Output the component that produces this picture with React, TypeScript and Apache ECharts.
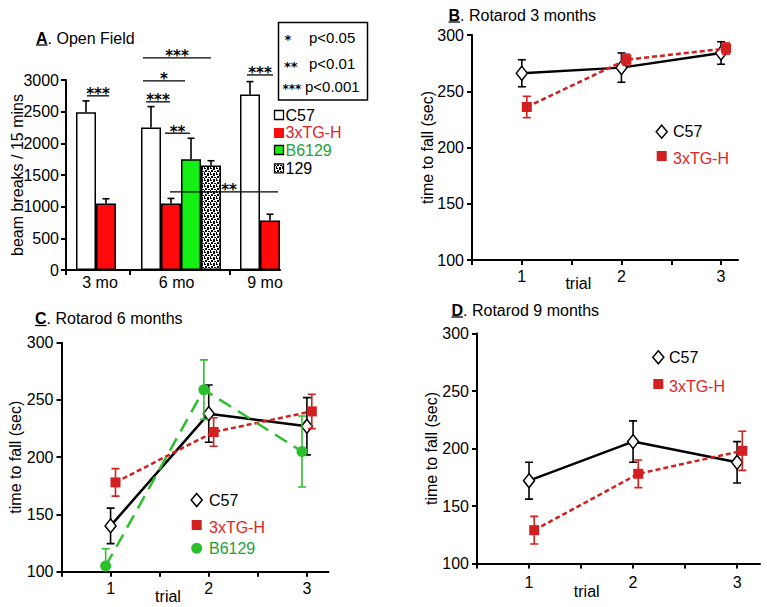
import React, { useEffect, useRef } from 'react';
import * as echarts from 'echarts';

const FONT = '"Liberation Sans", Arial, Helvetica, sans-serif';
const STAR_FONT = '"DejaVu Sans", "Liberation Sans", sans-serif';

// ---------- Panel A: Open Field ----------
const ageGroups = ['3 mo', '6 mo', '9 mo'];
const strainsA = ['C57', '3xTG-H', 'B6129', '129'];
const beamC57 = [2490, 2250, 2770];
const beamC57Err = [180, 330, 205];
const beam3xTG = [1050, 1050, 780];
const beam3xTGErr = [75, 80, 100];
const beamB6129 = [null, 1750, null];
const beamB6129Err = [null, 330, null];
const beam129 = [null, 1650, null];
const beam129Err = [null, 75, null];
const yTicksA = [0, 500, 1000, 1500, 2000, 2500, 3000];

// significance bars (data coordinates)
const sigText = ['***', '***', '*', '***', '**', '***', '**'];
const sigFrom = [1.05, 3.85, 3.85, 4.0, 4.95, 9.05, 5.2];
const sigTo = [2.15, 7.25, 5.95, 5.2, 6.2, 10.35, 10.6];
const sigLevel = [2750, 3350, 2985, 2655, 2160, 3080, 1235];
const sigLabelX = [null, null, null, null, null, null, 8.15];

const pLegendStars = ['*', '**', '***'];
const pLegendText = ['p<0.05', 'p<0.01', 'p<0.001'];

// ---------- Rotarod panels ----------
const trials = [1, 2, 3];
const yTicksRot = [100, 150, 200, 250, 300];
// B: 3 months
const rot3C57 = [266, 271, 284];
const rot3C57Sem = [12, 13, 10];
const rot3Tg = [236, 278, 288];
const rot3TgSem = [9.5, 5, 5];
// C: 6 months
const rot6C57 = [140, 238, 227];
const rot6C57Sem = [15.5, 25, 25];
const rot6Tg = [178, 222, 240];
const rot6TgSem = [12, 12.5, 15];
const rot6B6129 = [105, 259, 205];
const rot6B6129Sem = [15, 26, 31];
// D: 9 months
const rot9C57 = [172, 206, 188];
const rot9C57Sem = [16, 18, 18];
const rot9Tg = [129, 178, 198];
const rot9TgSem = [12, 12, 17];

// ---------- styles / layout ----------
const RED_BAR = '#ff0a0a';
const GREEN_BAR = '#14f014';
const RED = '#d21f1f';
const RED_TEXT = '#e0231f';
const GREEN = '#2cbf2c';
const GREEN_TEXT = '#24a13a';

const speckleSvg =
  '<svg xmlns="http://www.w3.org/2000/svg" width="6" height="6"><rect width="6" height="6" fill="#fff"/>' +
  '<path d="M0 0h2v1H0zM3 0h2v2H3zM1 2h2v2H1zM4 3h2v1H4zM0 4h1v2H0zM3 5h2v1H3z" fill="#000"/></svg>';
const speckleUrl = 'data:image/svg+xml;charset=utf-8,' + encodeURIComponent(speckleSvg);
const speckle: any = { image: speckleUrl, repeat: 'repeat', imageWidth: 6, imageHeight: 6 };

const groupStart = [1, 4.25, 9.2];
const ageLabelPos = [1.7, 5.53, 9.95];

function axisBase(extra: any) {
  return {
    axisLine: { show: true, onZero: false, lineStyle: { color: '#000', width: 2 } },
    splitLine: { show: false },
    ...extra,
  };
}
const tickStyle = { show: true, inside: false, length: 5, lineStyle: { color: '#000', width: 2 } };
const labelStyle = { color: '#000', fontSize: 16, fontFamily: FONT };

function errRender(color: string) {
  return (params: any, api: any) => {
    const x = api.value(0);
    const m = api.value(1);
    const s = api.value(2);
    const top = api.coord([x, m + s]);
    const bot = api.coord([x, m - s]);
    const st = { stroke: color, lineWidth: 1.6 };
    return {
      type: 'group',
      children: [
        { type: 'line', shape: { x1: top[0], y1: top[1], x2: bot[0], y2: bot[1] }, style: st },
        { type: 'line', shape: { x1: top[0] - 4, y1: top[1], x2: top[0] + 4, y2: top[1] }, style: st },
        { type: 'line', shape: { x1: bot[0] - 4, y1: bot[1], x2: bot[0] + 4, y2: bot[1] }, style: st },
      ],
    };
  };
}

function rotSeries(idx: number, name: string, means: number[], sems: number[], offset: number, kind: string, z: number) {
  const pts = trials.map((t, i) => [t + offset, means[i], sems[i]]);
  let lineColor = '#000';
  let symbol = 'diamond';
  let symbolSize: any = [11, 14];
  let itemStyle: any = { color: '#fff', borderColor: '#000', borderWidth: 1.5 };
  let lineType: any = 'solid';
  if (kind === 'tg') {
    lineColor = RED;
    symbol = 'rect';
    symbolSize = 10;
    itemStyle = { color: RED, borderWidth: 0 };
    lineType = [5, 3];
  } else if (kind === 'b6') {
    lineColor = GREEN;
    symbol = 'circle';
    symbolSize = 11;
    itemStyle = { color: GREEN, borderWidth: 0 };
    lineType = [14, 8];
  }
  return [
    {
      type: 'custom',
      name: name + ' sem',
      xAxisIndex: idx,
      yAxisIndex: idx,
      clip: true,
      z,
      silent: true,
      renderItem: errRender(lineColor),
      data: pts,
    },
    {
      type: 'line',
      name,
      xAxisIndex: idx,
      yAxisIndex: idx,
      z: z + 1,
      clip: false,
      symbol,
      symbolSize,
      showSymbol: true,
      itemStyle,
      lineStyle: { color: lineColor, width: 2.5, type: lineType },
      data: pts.map((p) => [p[0], p[1]]),
    },
  ];
}

function trialXAxis(gridIndex: number, max: number, margin: number) {
  return axisBase({
    type: 'value',
    gridIndex,
    min: 0.5,
    max,
    axisTick: { ...tickStyle, customValues: [0.5, 1, 1.5, 2, 2.5, 3] },
    axisLabel: { ...labelStyle, margin, customValues: trials, formatter: (v: number) => String(v) },
  });
}
function rotYAxis(gridIndex: number, nameGap: number) {
  return axisBase({
    type: 'value',
    gridIndex,
    min: yTicksRot[0],
    max: yTicksRot[yTicksRot.length - 1],
    interval: 50,
    name: 'time to fall (sec)',
    nameLocation: 'middle',
    nameRotate: 90,
    nameGap,
    nameMoveOverlap: false,
    nameTextStyle: { color: '#000', fontSize: 16, fontFamily: FONT },
    axisTick: tickStyle,
    axisLabel: { ...labelStyle, margin: 8, formatter: (v: number) => String(v) },
  });
}

function title(letter: string, rest: string, x: number, y: number) {
  return [
    {
      type: 'text',
      x,
      y,
      style: {
        text: '{b|' + letter + '}' + rest,
        fontSize: 16,
        fontFamily: FONT,
        fill: '#000',
        verticalAlign: 'middle',
        rich: { b: { fontWeight: 'bold', fontSize: 16, fontFamily: FONT, fill: '#000' } },
      },
    },
    {
      type: 'line',
      shape: { x1: x, y1: y + 7, x2: x + 11.5, y2: y + 7 },
      style: { stroke: '#000', lineWidth: 1.3 },
    },
  ];
}

function txt(text: string, x: number, y: number, color = '#000', size = 16, align = 'left', weight = 'normal', family = FONT) {
  return {
    type: 'text',
    x,
    y,
    style: { text, fill: color, fontSize: size, fontWeight: weight, fontFamily: family, align, verticalAlign: 'middle' },
  };
}
function diamond(cx: number, cy: number) {
  return {
    type: 'polygon',
    shape: { points: [[cx, cy - 6.5], [cx + 5.5, cy], [cx, cy + 6.5], [cx - 5.5, cy]] },
    style: { fill: '#fff', stroke: '#000', lineWidth: 1.5 },
  };
}
function square(cx: number, cy: number, color: string) {
  return { type: 'rect', shape: { x: cx - 5, y: cy - 5, width: 10, height: 10 }, style: { fill: color } };
}
function dot(cx: number, cy: number, color: string) {
  return { type: 'circle', shape: { cx, cy, r: 5.5 }, style: { fill: color } };
}

function buildOption() {
  // bars of panel A
  const strainVals = [beamC57, beam3xTG, beamB6129, beam129];
  const strainErrs = [beamC57Err, beam3xTGErr, beamB6129Err, beam129Err];
  const strainFill: any[] = ['#fff', RED_BAR, GREEN_BAR, speckle];
  const barData: any[] = [];
  const errData: any[] = [];
  ageGroups.forEach((_, g) => {
    let k = 0;
    strainsA.forEach((_, s) => {
      const v = strainVals[s][g];
      if (v == null) return;
      const x = groupStart[g] + k;
      k += 1;
      barData.push({
        value: [x, v],
        itemStyle: { color: strainFill[s], borderColor: '#000', borderWidth: 1.5 },
      });
      errData.push([x, v, strainErrs[s][g]]);
    });
  });

  const graphic: any[] = [
    ...title('A', '. Open Field', 36, 38),
    ...title('B', '. Rotarod 3 months', 448.5, 15),
    ...title('C', '. Rotarod 6 months', 35, 318.5),
    ...title('D', '. Rotarod 9 months', 451.5, 310),
    // p-value box
    {
      type: 'rect',
      shape: { x: 278.5, y: 22.5, width: 89, height: 77.5 },
      style: { fill: '#fff', stroke: '#000', lineWidth: 1.5 },
    },
    txt(pLegendStars[0], 284.5, 39.5, '#000', 13, 'left', 'bold', STAR_FONT),
    txt(pLegendStars[1], 284, 66, '#000', 13, 'left', 'bold', STAR_FONT),
    txt(pLegendStars[2], 282.5, 89, '#000', 12, 'left', 'bold', STAR_FONT),
    txt(pLegendText[0], 309, 37, '#000', 15),
    txt(pLegendText[1], 309, 63.5, '#000', 15),
    txt(pLegendText[2], 305, 86.5, '#000', 15),
    // legend A
    { type: 'rect', shape: { x: 274.5, y: 110.5, width: 9, height: 9 }, style: { fill: '#fff', stroke: '#000', lineWidth: 1.3 } },
    { type: 'rect', shape: { x: 274, y: 128, width: 10, height: 10 }, style: { fill: RED_BAR } },
    { type: 'rect', shape: { x: 274.5, y: 145.5, width: 9, height: 9 }, style: { fill: GREEN_BAR, stroke: '#000', lineWidth: 1.3 } },
    { type: 'rect', shape: { x: 274.5, y: 163.8, width: 9, height: 9 }, style: { fill: speckle, stroke: '#000', lineWidth: 1.3 } },
    txt(strainsA[0], 285.5, 115),
    txt(strainsA[1], 285.5, 132.5, RED_TEXT),
    txt(strainsA[2], 285.5, 150, GREEN_TEXT),
    txt(strainsA[3], 285.5, 168.3),
    // legend B
    diamond(661.7, 131.7),
    txt('C57', 673, 131.7),
    square(661.7, 156, RED),
    txt('3xTG-H', 673, 158, RED_TEXT),
    // legend C
    diamond(196.7, 500),
    txt('C57', 209, 500),
    square(196.7, 525, RED),
    txt('3xTG-H', 209, 527, RED_TEXT),
    dot(196.7, 548.3, GREEN),
    txt('B6129', 209, 548.3, GREEN_TEXT),
    // legend D
    diamond(658.3, 357.3),
    txt('C57', 669, 357.3),
    square(658.3, 384, RED),
    txt('3xTG-H', 669, 386, RED_TEXT),
    // x axis names
    txt('trial', 578.3, 283.3, '#000', 16, 'center'),
    txt('trial', 168, 596.5, '#000', 16, 'center'),
    txt('trial', 586.7, 591.7, '#000', 16, 'center'),
  ];

  return {
    animation: false,
    backgroundColor: '#fff',
    textStyle: { fontFamily: FONT },
    grid: [
      { left: 66, top: 80, width: 214, height: 190, outerBoundsMode: 'none' },
      { left: 472, top: 35, width: 266, height: 225, outerBoundsMode: 'none' },
      { left: 61.5, top: 342.7, width: 267, height: 229, outerBoundsMode: 'none' },
      { left: 477, top: 333.5, width: 283, height: 230, outerBoundsMode: 'none' },
    ],
    xAxis: [
      axisBase({
        type: 'value',
        gridIndex: 0,
        min: 0,
        max: 10.7,
        axisTick: { ...tickStyle, customValues: [0, 3.2, 8.2] },
        axisLabel: {
          ...labelStyle,
          margin: 4,
          customValues: ageLabelPos,
          formatter: (v: number) => {
            const i = ageLabelPos.findIndex((p) => Math.abs(p - v) < 0.01);
            return i >= 0 ? ageGroups[i] : '';
          },
        },
      }),
      trialXAxis(1, 3.17, 8),
      trialXAxis(2, 3.22, 9),
      trialXAxis(3, 3.22, 11),
    ],
    yAxis: [
      axisBase({
        type: 'value',
        gridIndex: 0,
        min: yTicksA[0],
        max: yTicksA[yTicksA.length - 1],
        interval: 500,
        name: 'beam breaks / 15 mins',
        nameLocation: 'middle',
        nameRotate: 90,
        nameGap: 41,
        nameMoveOverlap: false,
        nameTextStyle: { color: '#000', fontSize: 16, fontFamily: FONT },
        axisTick: tickStyle,
        axisLabel: { ...labelStyle, margin: 7, formatter: (v: number) => String(v) },
      }),
      rotYAxis(1, 37),
      rotYAxis(2, 38.5),
      rotYAxis(3, 37.3),
    ],
    series: [
      {
        type: 'bar',
        name: 'open field',
        xAxisIndex: 0,
        yAxisIndex: 0,
        barWidth: 20,
        data: barData,
        z: 2,
      },
      {
        type: 'custom',
        name: 'open field sem',
        xAxisIndex: 0,
        yAxisIndex: 0,
        clip: false,
        z: 3,
        renderItem: (params: any, api: any) => {
          const x = api.value(0);
          const v = api.value(1);
          const e = api.value(2);
          const a = api.coord([x, v]);
          const b = api.coord([x, v + e]);
          const st = { stroke: '#000', lineWidth: 1.6 };
          return {
            type: 'group',
            children: [
              { type: 'line', shape: { x1: a[0], y1: a[1], x2: b[0], y2: b[1] }, style: st },
              { type: 'line', shape: { x1: b[0] - 3.5, y1: b[1], x2: b[0] + 3.5, y2: b[1] }, style: st },
            ],
          };
        },
        data: errData,
      },
      {
        type: 'custom',
        name: 'significance',
        xAxisIndex: 0,
        yAxisIndex: 0,
        clip: false,
        z: 4,
        renderItem: (params: any, api: any) => {
          const i = params.dataIndex;
          const a = api.coord([sigFrom[i], sigLevel[i]]);
          const b = api.coord([sigTo[i], sigLevel[i]]);
          const lx = sigLabelX[i] != null ? api.coord([sigLabelX[i] as number, sigLevel[i]])[0] : (a[0] + b[0]) / 2;
          return {
            type: 'group',
            children: [
              { type: 'line', shape: { x1: a[0], y1: a[1], x2: b[0], y2: b[1] }, style: { stroke: '#000', lineWidth: 1.3 } },
              {
                type: 'text',
                style: {
                  text: sigText[i],
                  x: lx,
                  y: a[1] - 1.5,
                  align: 'center',
                  verticalAlign: 'middle',
                  fontSize: 15,
                  fontWeight: 'bold',
                  fontFamily: STAR_FONT,
                  fill: '#000',
                },
              },
            ],
          };
        },
        data: sigText.map((_, i) => [sigFrom[i], sigLevel[i]]),
      },
      ...rotSeries(1, 'C57', rot3C57, rot3C57Sem, 0, 'c57', 2),
      ...rotSeries(1, '3xTG-H', rot3Tg, rot3TgSem, 0.05, 'tg', 4),
      ...rotSeries(2, 'C57', rot6C57, rot6C57Sem, 0, 'c57', 2),
      ...rotSeries(2, '3xTG-H', rot6Tg, rot6TgSem, 0.05, 'tg', 4),
      ...rotSeries(2, 'B6129', rot6B6129, rot6B6129Sem, -0.05, 'b6', 6),
      ...rotSeries(3, 'C57', rot9C57, rot9C57Sem, 0, 'c57', 2),
      ...rotSeries(3, '3xTG-H', rot9Tg, rot9TgSem, 0.05, 'tg', 4),
    ],
    graphic,
  };
}

export default function App() {
  const ref = useRef<HTMLDivElement>(null);
  useEffect(() => {
    if (!ref.current) return;
    const chart = echarts.init(ref.current, null, { renderer: 'svg' });
    chart.setOption(buildOption() as any);
    return () => chart.dispose();
  }, []);
  return (
    <div
      ref={ref}
      style={{ position: 'fixed', left: 0, top: 0, width: 767, height: 607, background: '#fff' }}
    />
  );
}
